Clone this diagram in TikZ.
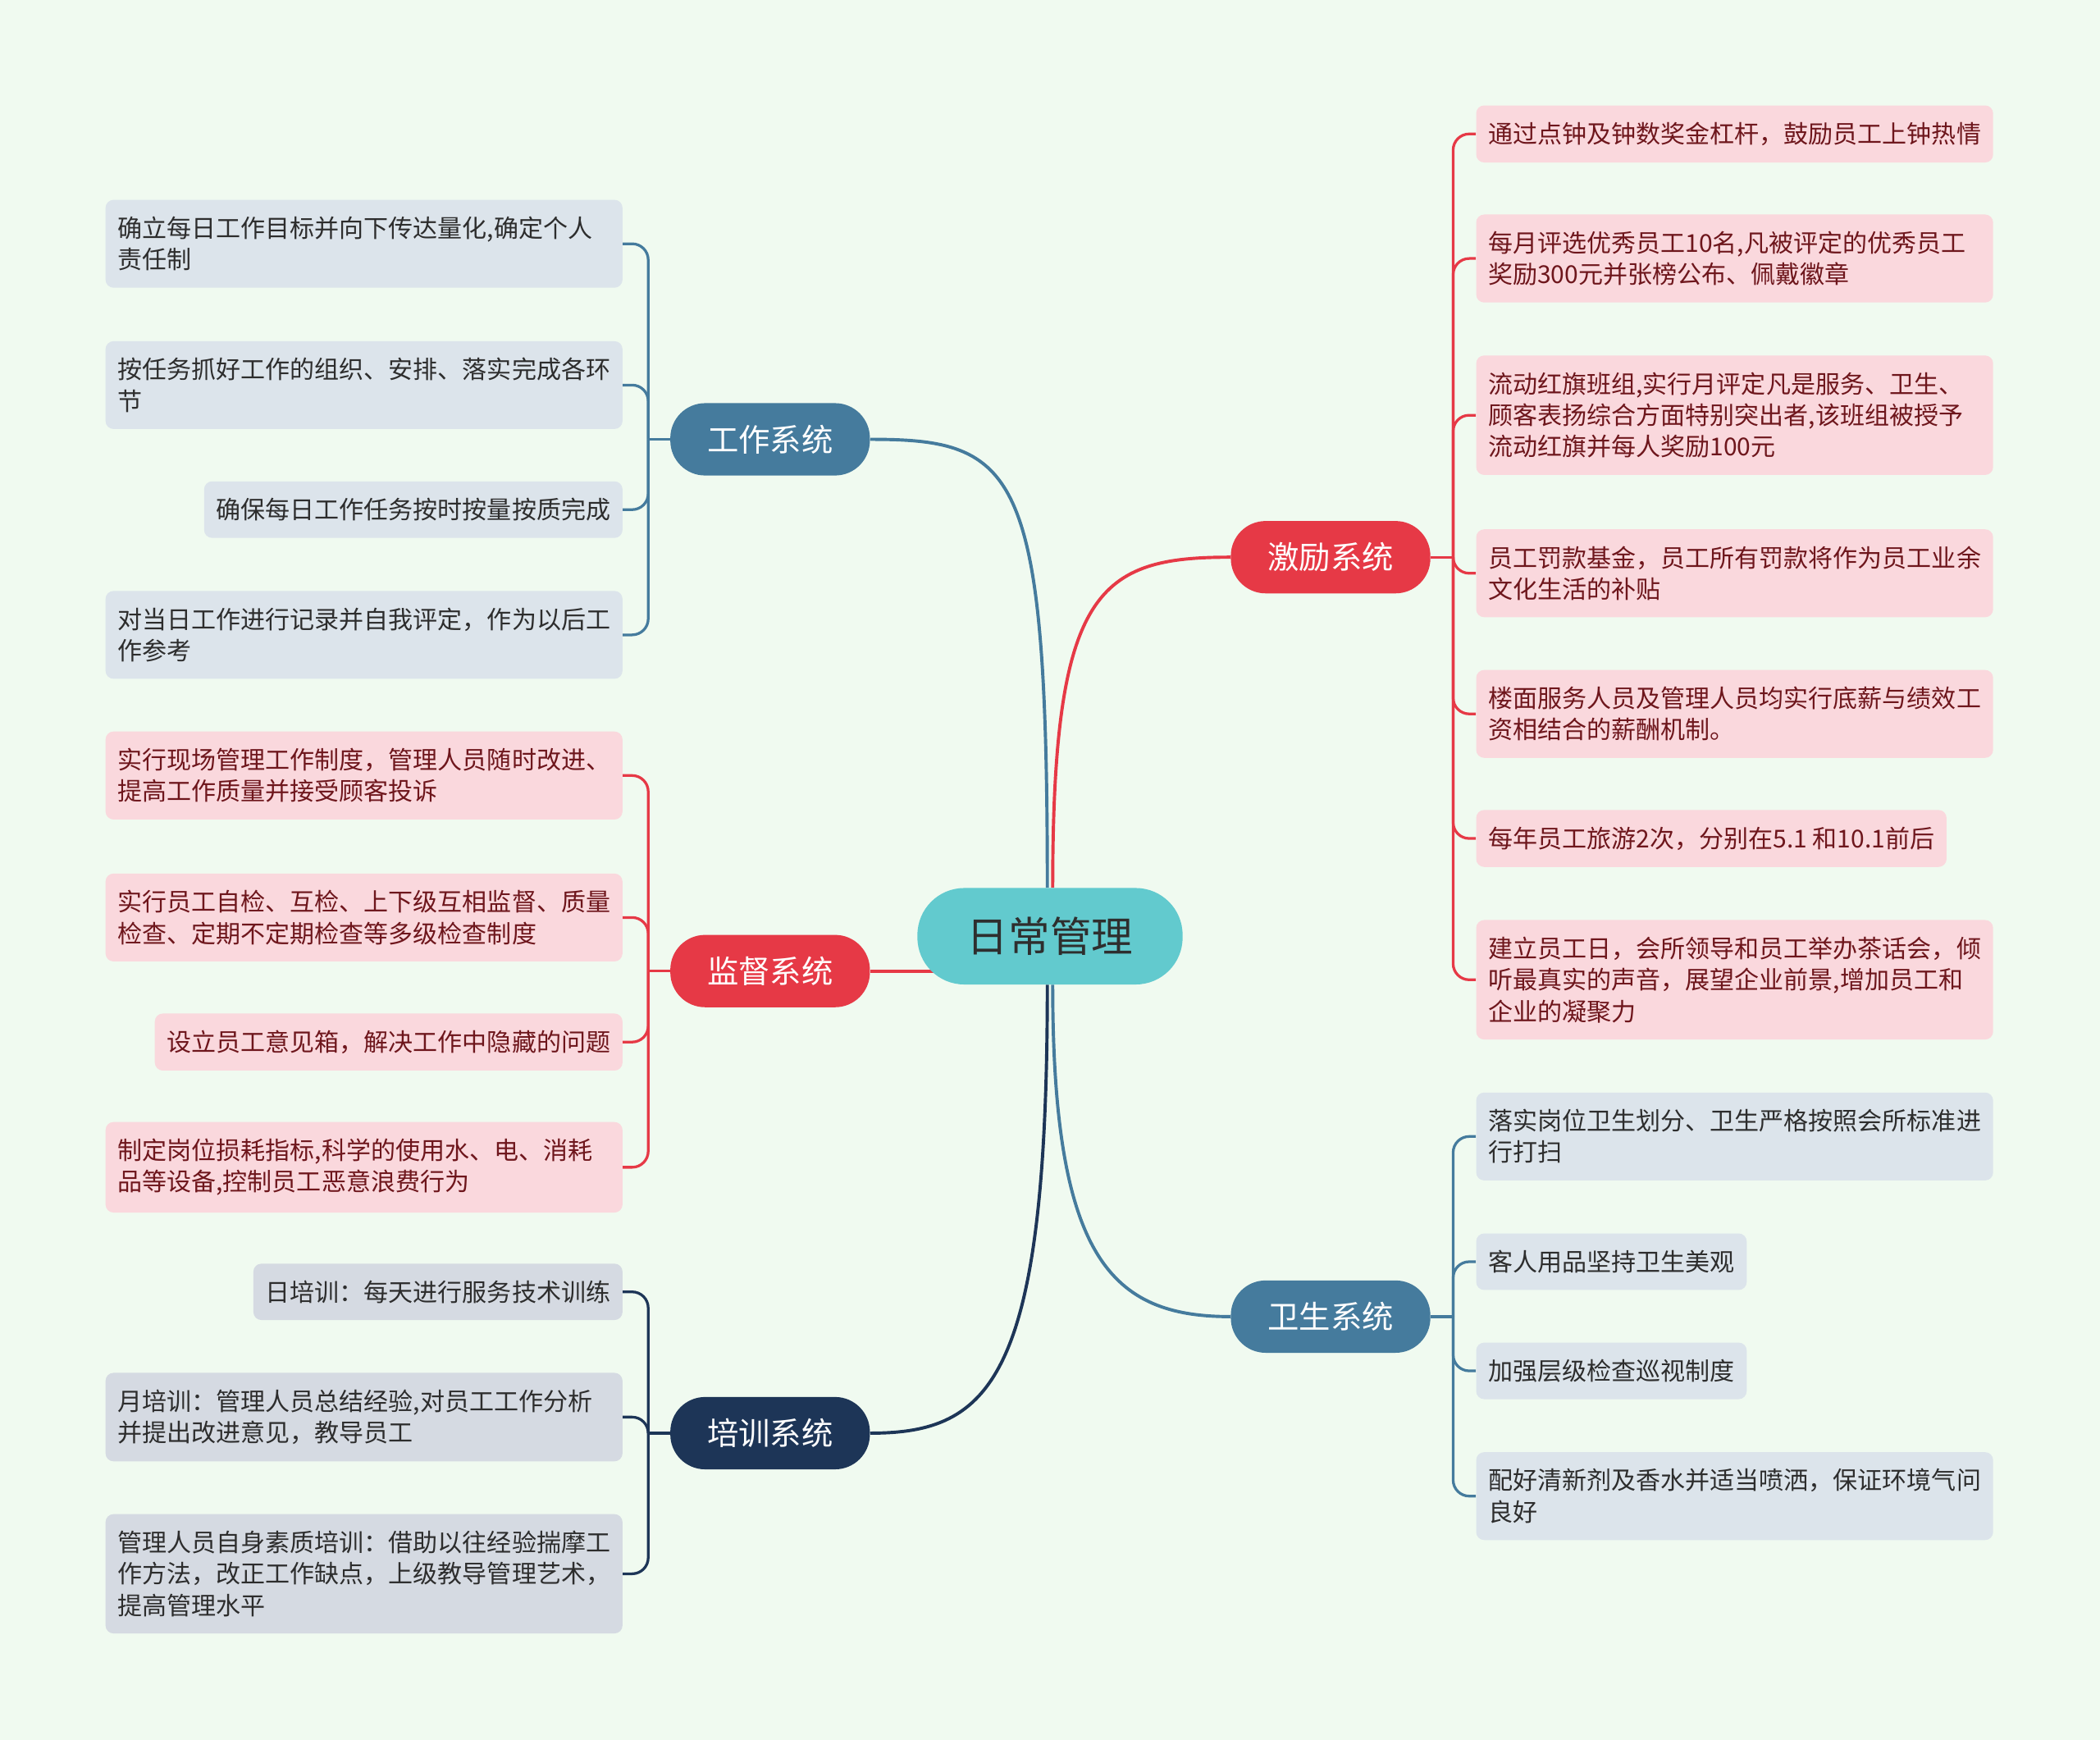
\documentclass[tikz,border=0pt]{standalone}
\usepackage{fontspec}
\setmainfont{Noto Sans CJK SC}
\usepackage{tikz}
\usetikzlibrary{backgrounds}
\definecolor{bgmint}{RGB}{240,250,240}
\definecolor{rootteal}{RGB}{98,202,206}
\definecolor{steel}{RGB}{69,123,157}
\definecolor{crimson}{RGB}{230,57,70}
\definecolor{navy}{RGB}{29,53,87}
\definecolor{steelleaf}{RGB}{220,228,235}
\definecolor{pinkleaf}{RGB}{250,216,221}
\definecolor{greyleaf}{RGB}{213,218,226}
\definecolor{leaftext}{RGB}{45,45,45}
\definecolor{redtext}{RGB}{110,22,28}

\begin{document}
\begin{tikzpicture}[x=1pt, y=-1pt,
  root/.style={rectangle, fill=rootteal, rounded corners=35pt,
               minimum width=198pt, minimum height=72pt,
               font=\fontsize{31}{36}\selectfont, text=black!82},
  sys/.style={rectangle, fill=#1, rounded corners=26pt,
              minimum width=149pt, minimum height=54pt,
              font=\fontsize{23.5}{28}\selectfont, text=white},
  leaf/.style={rectangle, fill=#1, rounded corners=6pt, inner xsep=9pt, inner ysep=12.5pt,
               align=left, font=\fontsize{18.4}{23.5}\selectfont, text=leaftext},
  redleaf/.style={leaf=pinkleaf, text=redtext},
  wide/.style={text width=368pt},
  br/.style={line width=2.4pt, draw=#1},
  tw/.style={line width=2pt, draw=#1, rounded corners=12pt},
]
\useasboundingbox (0,0) rectangle (1568,1299);

\node[root] (root) at (784,699) {日常管理};

\node[sys=steel]   (gz) at (575,328)   {工作系统};
\node[sys=crimson] (jd) at (575,725)   {监督系统};
\node[sys=navy]    (px) at (575,1070)  {培训系统};
\node[sys=crimson] (jl) at (993.5,416) {激励系统};
\node[sys=steel]   (ws) at (993.5,983) {卫生系统};

% left side
\node[leaf=steelleaf, wide, anchor=east] (gz1) at (465,182)   {确立每日工作目标并向下传达量化,确定个人\\责任制};
\node[leaf=steelleaf, wide, anchor=east] (gz2) at (465,287.5) {按任务抓好工作的组织、安排、落实完成各环\\节};
\node[leaf=steelleaf, anchor=east]       (gz3) at (465,380.5) {确保每日工作任务按时按量按质完成};
\node[leaf=steelleaf, wide, anchor=east] (gz4) at (465,474)   {对当日工作进行记录并自我评定，作为以后工\\作参考};

\node[redleaf, wide, anchor=east] (jd1) at (465,579)   {实行现场管理工作制度，管理人员随时改进、\\提高工作质量并接受顾客投诉};
\node[redleaf, wide, anchor=east] (jd2) at (465,685)   {实行员工自检、互检、上下级互相监督、质量\\检查、定期不定期检查等多级检查制度};
\node[redleaf, anchor=east]       (jd3) at (465,778)   {设立员工意见箱，解决工作中隐藏的问题};
\node[redleaf, wide, anchor=east] (jd4) at (465,871.5) {制定岗位损耗指标,科学的使用水、电、消耗\\品等设备,控制员工恶意浪费行为};

\node[leaf=greyleaf, anchor=east]       (px1) at (465,964.5) {日培训：每天进行服务技术训练};
\node[leaf=greyleaf, wide, anchor=east] (px2) at (465,1058)  {月培训：管理人员总结经验,对员工工作分析\\并提出改进意见，教导员工};
\node[leaf=greyleaf, wide, anchor=east] (px3) at (465,1175)  {管理人员自身素质培训：借助以往经验揣摩工\\作方法，改正工作缺点，上级教导管理艺术，\\提高管理水平};

% right side
\node[redleaf, anchor=west]       (jl1) at (1102,100)   {通过点钟及钟数奖金杠杆，鼓励员工上钟热情};
\node[redleaf, wide, anchor=west] (jl2) at (1102,193)   {每月评选优秀员工10名,凡被评定的优秀员工\\奖励300元并张榜公布、佩戴徽章};
\node[redleaf, wide, anchor=west] (jl3) at (1102,310)   {流动红旗班组,实行月评定凡是服务、卫生、\\顾客表扬综合方面特别突出者,该班组被授予\\流动红旗并每人奖励100元};
\node[redleaf, wide, anchor=west] (jl4) at (1102,428)   {员工罚款基金，员工所有罚款将作为员工业余\\文化生活的补贴};
\node[redleaf, wide, anchor=west] (jl5) at (1102,533)   {楼面服务人员及管理人员均实行底薪与绩效工\\资相结合的薪酬机制。};
\node[redleaf, anchor=west]       (jl6) at (1102,626)   {每年员工旅游2次，分别在5.1 和10.1前后};
\node[redleaf, wide, anchor=west] (jl7) at (1102,731.5) {建立员工日，会所领导和员工举办茶话会，倾\\听最真实的声音，展望企业前景,增加员工和\\企业的凝聚力};

\node[leaf=steelleaf, wide, anchor=west] (ws1) at (1102,848.5)  {落实岗位卫生划分、卫生严格按照会所标准进\\行打扫};
\node[leaf=steelleaf, anchor=west]       (ws2) at (1102,942)    {客人用品坚持卫生美观};
\node[leaf=steelleaf, anchor=west]       (ws3) at (1102,1023.5) {加强层级检查巡视制度};
\node[leaf=steelleaf, wide, anchor=west] (ws4) at (1102,1117)   {配好清新剂及香水并适当喷洒，保证环境气问\\良好};

\coordinate (gzh) at (484,328);
\coordinate (jdh) at (484,725);
\coordinate (pxh) at (484,1070);
\coordinate (jlh) at (1085,416);
\coordinate (wsh) at (1085,983);

\begin{scope}[on background layer]
\fill[bgmint] (0,0) rectangle (1568,1299);

\draw[br=steel]   ([xshift=-2pt]root.north) .. controls (782,350) and (760,328) .. (gz.east);
\draw[br=crimson] ([xshift=2pt]root.north) .. controls (786,440) and (820,416) .. (jl.west);
\draw[br=crimson] (root.center |- jd.east) -- (jd.east);
\draw[br=navy]    ([xshift=-2pt]root.south) .. controls (782,1030) and (740,1070) .. (px.east);
\draw[br=steel]   ([xshift=2pt]root.south) .. controls (786,940) and (830,983) .. (ws.west);

\draw[tw=steel] (gz.west) -- (gzh);
\draw[tw=steel] (gzh) |- (gz1.east);
\draw[tw=steel] (gzh) |- (gz2.east);
\draw[tw=steel] (gzh) |- (gz3.east);
\draw[tw=steel] (gzh) |- (gz4.east);

\draw[tw=crimson] (jd.west) -- (jdh);
\draw[tw=crimson] (jdh) |- (jd1.east);
\draw[tw=crimson] (jdh) |- (jd2.east);
\draw[tw=crimson] (jdh) |- (jd3.east);
\draw[tw=crimson] (jdh) |- (jd4.east);

\draw[tw=navy] (px.west) -- (pxh);
\draw[tw=navy] (pxh) |- (px1.east);
\draw[tw=navy] (pxh) |- (px2.east);
\draw[tw=navy] (pxh) |- (px3.east);

\draw[tw=crimson] (jl.east) -- (jlh);
\draw[tw=crimson] (jlh) |- (jl1.west);
\draw[tw=crimson] (jlh) |- (jl2.west);
\draw[tw=crimson] (jlh) |- (jl3.west);
\draw[tw=crimson] (jlh) |- (jl4.west);
\draw[tw=crimson] (jlh) |- (jl5.west);
\draw[tw=crimson] (jlh) |- (jl6.west);
\draw[tw=crimson] (jlh) |- (jl7.west);

\draw[tw=steel] (ws.east) -- (wsh);
\draw[tw=steel] (wsh) |- (ws1.west);
\draw[tw=steel] (wsh) |- (ws2.west);
\draw[tw=steel] (wsh) |- (ws3.west);
\draw[tw=steel] (wsh) |- (ws4.west);
\end{scope}
\end{tikzpicture}
\end{document}
